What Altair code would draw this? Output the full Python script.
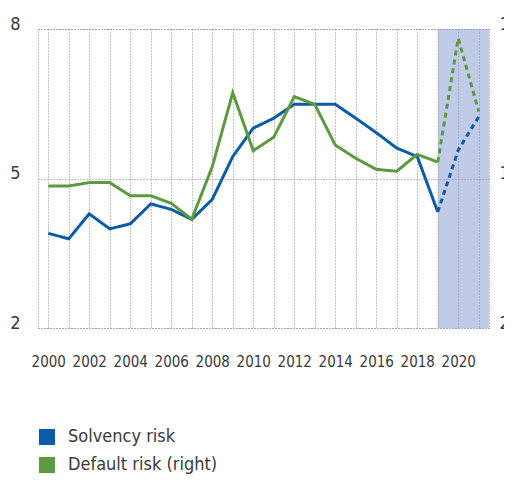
import altair as alt
import pandas as pd

years = list(range(2000, 2022))
solvency = [3.90, 3.79, 4.29, 3.99, 4.09, 4.49, 4.38, 4.18, 4.58, 5.44, 6.01,
            6.21, 6.49, 6.49, 6.49, 6.21, 5.92, 5.61, 5.44, 4.33, 5.57, 6.24]
default = [9.60, 9.60, 9.78, 9.78, 9.08, 9.08, 8.67, 7.82, 10.63, 14.59, 11.49,
           12.21, 14.38, 13.97, 11.79, 11.08, 10.49, 10.39, 11.29, 10.88, 17.50, 13.58]
series_names = ["Solvency risk", "Default risk (right)"]
series_colors = ["#0A5CAB", "#5B9A3F"]
forecast_start = 2019
shade_end = 2021.5

FONT = "DejaVu Sans Condensed, Liberation Sans Narrow, sans-serif"
TXT = "#3a3a3a"
GRID = "#8a8a8a"


def build(values, name):
    rows = []
    for y, v in zip(years, values):
        if y <= forecast_start:
            rows.append({"year": y, "value": v, "series": name, "part": "actual"})
        if y >= forecast_start:
            rows.append({"year": y, "value": v, "series": name, "part": "forecast"})
    return pd.DataFrame(rows)


df_s = build(solvency, series_names[0])
df_d = build(default, series_names[1])
shade = pd.DataFrame({"x": [forecast_start], "x2": [shade_end]})
legend_df = pd.DataFrame({"series": series_names, "year": [2010, 2010], "value": [100, 100]})

xscale = alt.Scale(domain=[1999.5, 2021.5], nice=False, zero=False)
xaxis = alt.Axis(values=years, format="d",
                 labelExpr="datum.value % 2 == 0 ? datum.label : ''",
                 grid=True, gridColor=GRID, gridDash=[1, 2], gridWidth=1,
                 domain=False, ticks=False, labelPadding=33, labelFontSize=15,
                 labelOverlap=False, labelColor=TXT, labelFont=FONT,
                 labelBaseline="middle", title=None)
yleft_scale = alt.Scale(domain=[2, 8], nice=False, zero=False)
yleft_axis = alt.Axis(orient="left", values=[2, 5, 8], grid=True, gridColor=GRID,
                      gridDash=[1, 2], domain=False, ticks=False, labelPadding=18,
                      labelFontSize=18, labelFont=FONT, labelColor=TXT,
                      labelBaseline="alphabetic", title=None)
dash = alt.StrokeDash("part:N",
                      scale=alt.Scale(domain=["actual", "forecast"], range=[[1, 0], [5, 4]]),
                      legend=None)

rect = alt.Chart(shade).mark_rect(color="#7F97CF", opacity=0.5).encode(
    x=alt.X("x:Q", scale=xscale, axis=xaxis),
    x2="x2:Q",
)

blue = alt.Chart(df_s).mark_line(strokeWidth=3, color=series_colors[0]).encode(
    x=alt.X("year:Q", scale=xscale, axis=xaxis),
    y=alt.Y("value:Q", scale=yleft_scale, axis=yleft_axis),
    strokeDash=dash,
    detail="part:N",
)

legend_layer = alt.Chart(legend_df).mark_square(size=256, filled=True, clip=True,
                                                opacity=1).encode(
    x=alt.X("year:Q", scale=xscale, axis=xaxis),
    y=alt.Y("value:Q", scale=yleft_scale, axis=yleft_axis),
    color=alt.Color("series:N",
                    scale=alt.Scale(domain=series_names, range=series_colors),
                    legend=alt.Legend(orient="none", legendX=0, legendY=399,
                                      title=None, symbolType="square", symbolSize=256,
                                      symbolStrokeWidth=0, symbolOpacity=1,
                                      labelFontSize=18,
                                      labelFont=FONT, labelColor=TXT, labelLimit=400,
                                      labelOffset=12, rowPadding=10,
                                      direction="vertical")),
)

green = alt.Chart(df_d).mark_line(strokeWidth=3, color=series_colors[1]).encode(
    x=alt.X("year:Q", scale=xscale, axis=xaxis),
    y=alt.Y("value:Q", scale=alt.Scale(domain=[2, 18], nice=False, zero=False),
            axis=alt.Axis(orient="right", values=[2, 10, 18], grid=False,
                          domain=False, ticks=False, labelPadding=10,
                          labelFontSize=18, labelFont=FONT, labelColor=TXT,
                          labelBaseline="alphabetic", title=None)),
    strokeDash=dash,
    detail="part:N",
)

left = alt.layer(rect, blue, legend_layer)
chart = alt.layer(left, green).resolve_scale(y="independent").properties(
    width=451, height=299,
    padding={"left": 30, "top": 21, "right": 15, "bottom": 147},
    autosize="none",
).configure_view(stroke=GRID, strokeDash=[1, 2], strokeWidth=1)

chart.save("out.html", embed_options={"renderer": "svg", "actions": False})
